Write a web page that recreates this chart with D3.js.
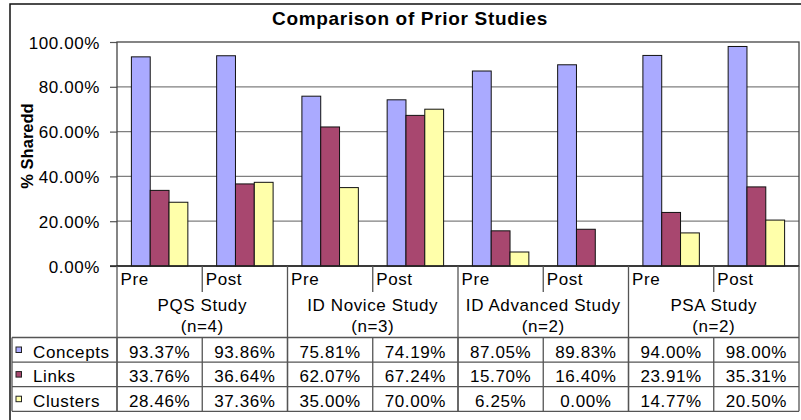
<!DOCTYPE html>
<html>
<head>
<meta charset="utf-8">
<script src="https://cdn.jsdelivr.net/npm/d3@7"></script>
<style>
  html, body { margin: 0; padding: 0; background: #fff; }
  svg { display: block; font-family: "Liberation Sans", Arial, sans-serif; }
</style>
</head>
<body>
<svg id="chart" width="801" height="420"></svg>
<script>
// Share of items in common, per study and phase
const studies = ["PQS Study", "ID Novice Study", "ID Advanced Study", "PSA Study"];
const sampleSizes = ["(n=4)", "(n=3)", "(n=2)", "(n=2)"];
const phases = ["Pre", "Post"];
const seriesNames = ["Concepts", "Links", "Clusters"];
const concepts = [93.37, 93.86, 75.81, 74.19, 87.05, 89.83, 94.00, 98.00];
const links    = [33.76, 36.64, 62.07, 67.24, 15.70, 16.40, 23.91, 35.31];
const clusters = [28.46, 37.36, 35.00, 70.00, 6.25, 0.00, 14.77, 20.50];
const yTicks = [0, 20, 40, 60, 80, 100];
const seriesColors = ["#aaaaff", "#a8476f", "#ffffaa"];

const values = [concepts, links, clusters];
const columns = [];
studies.forEach((s, i) => phases.forEach(p => columns.push({ id: s + "|" + p, study: s, phase: p, gi: i })));

const svg = d3.select("#chart");
const plotLeft = 117, plotRight = 799, plotTop = 42, plotBottom = 266;
const fs = 17, ls = 0.6;

const x = d3.scaleBand().domain(columns.map(c => c.id)).range([plotLeft, plotRight]).padding(0);
const xs = d3.scaleBand().domain(seriesNames).range([0, x.bandwidth()]).paddingInner(0).paddingOuter(0.765);
const y = d3.scaleLinear().domain([0, 100]).range([plotBottom, plotTop]);
const fmt = v => v.toFixed(2) + "%";

// outer frame
svg.append("rect").attr("x", 10).attr("y", 4).attr("width", 820).attr("height", 440)
  .attr("fill", "none").attr("stroke", "#111").attr("stroke-width", 1.5);

// title
svg.append("text").attr("x", 410).attr("y", 25).attr("text-anchor", "middle")
  .attr("font-size", 19).attr("font-weight", "bold").attr("letter-spacing", 0.68)
  .text("Comparison of Prior Studies");

// gridlines and y ticks
const yAxis = d3.axisLeft(y).tickValues(yTicks).tickSize(7).tickPadding(10).tickFormat(d => d.toFixed(2) + "%");
const ya = svg.append("g").attr("transform", `translate(${plotLeft},0)`).call(yAxis);
ya.select(".domain").remove();
ya.selectAll(".tick line").attr("stroke", "#555").attr("stroke-width", 1.2);
ya.selectAll(".tick text").attr("font-size", fs).attr("letter-spacing", ls)
  .attr("fill", "#000").attr("font-family", "Liberation Sans, Arial, sans-serif").attr("dy", "0.36em");

svg.append("g").selectAll("line").data(yTicks.filter(t => t > 0 && t < 100)).join("line")
  .attr("x1", plotLeft).attr("x2", plotRight).attr("y1", d => y(d)).attr("y2", d => y(d))
  .attr("stroke", "#7f7f7f").attr("stroke-width", 1.3);

// plot frame
svg.append("rect").attr("x", plotLeft).attr("y", plotTop).attr("width", plotRight - plotLeft).attr("height", plotBottom - plotTop)
  .attr("fill", "none").attr("stroke", "#444").attr("stroke-width", 1.3);

// axis title
svg.append("text").attr("transform", `translate(32.5,146) rotate(-90)`).attr("text-anchor", "middle")
  .attr("font-size", 16.5).attr("font-weight", "bold").text("% Sharedd");

// bars
seriesNames.forEach((name, si) => {
  svg.append("g").selectAll("rect").data(columns).join("rect")
    .attr("x", c => x(c.id) + xs(name))
    .attr("width", xs.bandwidth())
    .attr("y", (c, i) => y(values[si][i]))
    .attr("height", (c, i) => y(0) - y(values[si][i]))
    .attr("fill", seriesColors[si])
    .attr("stroke", "#111").attr("stroke-width", 1)
    .attr("stroke-opacity", (c, i) => values[si][i] > 0 ? 1 : 0);
});

// category axis line
svg.append("line").attr("x1", plotLeft - 7).attr("x2", plotRight).attr("y1", plotBottom).attr("y2", plotBottom)
  .attr("stroke", "#222").attr("stroke-width", 1.5);

// header area: phase and study labels
const gridStroke = "#555";
const tableTop = 337.5, rowH = 24.6, tableBottom = tableTop + rowH * 3;
const headerG = svg.append("g");
headerG.selectAll("text.phase").data(columns).join("text")
  .attr("x", c => x(c.id) + 3.5).attr("y", 284.5)
  .attr("font-size", fs).attr("letter-spacing", ls).text(c => c.phase);
headerG.selectAll("line.phaseDiv").data(columns.filter(c => c.phase === "Post")).join("line")
  .attr("x1", c => x(c.id)).attr("x2", c => x(c.id)).attr("y1", plotBottom).attr("y2", 292)
  .attr("stroke", gridStroke).attr("stroke-width", 1.3);
studies.forEach((s, i) => {
  const x0 = x(s + "|Pre"), x1 = x(s + "|Post") + x.bandwidth();
  headerG.append("text").attr("x", (x0 + x1) / 2).attr("y", 311).attr("text-anchor", "middle")
    .attr("font-size", fs).attr("letter-spacing", ls).text(s);
  headerG.append("text").attr("x", (x0 + x1) / 2).attr("y", 331.5).attr("text-anchor", "middle")
    .attr("font-size", fs).attr("letter-spacing", ls).text(sampleSizes[i]);
});
// study boundaries through header and table
const studyEdges = studies.map(s => x(s + "|Pre")).concat([plotRight]);
headerG.selectAll("line.studyDiv").data(studyEdges).join("line")
  .attr("x1", d => d).attr("x2", d => d).attr("y1", plotBottom).attr("y2", tableBottom)
  .attr("stroke", gridStroke).attr("stroke-width", 1.3);

// data table
const tableG = svg.append("g");
const rowLines = [0, 1, 2, 3].map(k => tableTop + k * rowH);
tableG.selectAll("line.row").data(rowLines).join("line")
  .attr("x1", 12).attr("x2", plotRight).attr("y1", d => d).attr("y2", d => d)
  .attr("stroke", gridStroke).attr("stroke-width", 1.3);
tableG.selectAll("line.col").data([12].concat(columns.map(c => x(c.id)))).join("line")
  .attr("x1", d => d).attr("x2", d => d).attr("y1", tableTop).attr("y2", tableBottom)
  .attr("stroke", gridStroke).attr("stroke-width", 1.3);

seriesNames.forEach((name, si) => {
  const rowY = tableTop + si * rowH;
  tableG.append("rect").attr("x", 16).attr("y", rowY + 9.5).attr("width", 5.5).attr("height", 5.5)
    .attr("fill", seriesColors[si]).attr("stroke", "#222").attr("stroke-width", 1);
  tableG.append("text").attr("x", 33).attr("y", rowY + 20).attr("font-size", fs)
    .attr("letter-spacing", ls).text(name);
  tableG.selectAll(null).data(columns).join("text")
    .attr("x", c => x(c.id) + x.bandwidth() / 2).attr("y", rowY + 20)
    .attr("text-anchor", "middle").attr("font-size", fs).attr("letter-spacing", ls)
    .text((c, i) => fmt(values[si][i]));
});
</script>
</body>
</html>
